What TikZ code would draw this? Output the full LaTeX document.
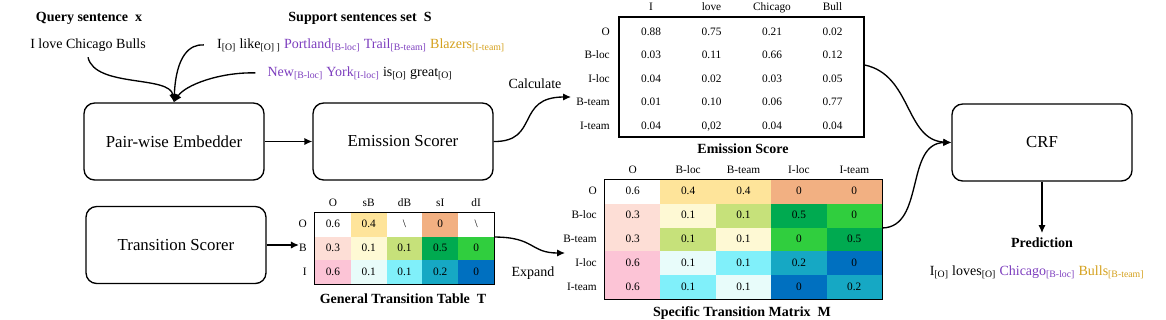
\documentclass[tikz,border=0pt]{standalone}
\usepackage{fontspec}
\setmainfont{Liberation Serif}
\usetikzlibrary{arrows.meta}
\definecolor{pur}{RGB}{125,62,190}
\definecolor{gld}{RGB}{212,160,28}
\definecolor{cw}{RGB}{255,255,255}
\definecolor{cy}{RGB}{254,228,154}
\definecolor{cs}{RGB}{242,176,130}
\definecolor{cpp}{RGB}{253,222,214}
\definecolor{ccr}{RGB}{254,249,212}
\definecolor{cyg}{RGB}{198,225,122}
\definecolor{cdg}{RGB}{0,170,80}
\definecolor{cg}{RGB}{48,206,62}
\definecolor{cpk}{RGB}{252,196,214}
\definecolor{cpc}{RGB}{232,252,250}
\definecolor{ccy}{RGB}{128,240,250}
\definecolor{ctl}{RGB}{22,168,196}
\definecolor{cbl}{RGB}{0,112,192}
\newcommand{\sbs}[1]{\textsubscript{#1}}
\begin{document}
\begin{tikzpicture}[x=0.75pt,y=-0.75pt,
  txt/.style={font=\fontsize{10.5}{12.6}\selectfont, inner sep=0pt},
  ttl/.style={font=\bfseries\fontsize{10.5}{12.6}\selectfont, inner sep=0pt},
  box/.style={draw, line width=1pt, rounded corners=8pt, minimum width=135pt, minimum height=57.75pt, font=\fontsize{12.6}{15}\selectfont},
  arr/.style={line width=1pt, -{Latex[length=6pt,width=5.5pt]}},
  hdr/.style={font=\fontsize{8.5}{10}\selectfont, inner sep=0pt, text height=6pt, text depth=1.5pt},
  tcell/.style={hdr, minimum width=27pt, minimum height=17.9pt},
  mcell/.style={hdr, minimum width=41.7pt, minimum height=18pt},
  frame/.style={line width=1pt}
]
\useasboundingbox (0,0) rectangle (1166,319);

% ---------- boxes ----------
\node[box] (pe) at (174,141.5) {Pair-wise Embedder};
\node[box] (es) at (403,141.5) {Emission Scorer};
\node[box] (ts) at (176,245) {Transition Scorer};
\node[box] (crf) at (1042,142.5) {CRF};

% ---------- top texts ----------
\node[ttl, anchor=base] (qt) at (89,21) {Query sentence~~x};
\node[txt, anchor=base] (q) at (88,48) {I love Chicago Bulls};
\node[ttl, anchor=base] (st) at (360,21) {Support sentences set~~S};
\node[txt, anchor=base] (s1) at (361,48) {I\sbs{[O]} like\sbs{[O] ]} {\color{pur}Portland\sbs{[B-loc]} Trail\sbs{[B-team]}} {\color{gld}Blazers\sbs{[I-team]}}};
\node[txt, anchor=base] (s2) at (360,76) {{\color{pur}New\sbs{[B-loc]} York\sbs{[I-loc]}} is\sbs{[O]} great\sbs{[O]}};

% ---------- emission score table ----------
\node[draw, frame, minimum width=183.75pt, minimum height=90pt, inner sep=0pt] (E) at (741.5,77) {};
\foreach \h [count=\j] in {I,love,Chicago,Bull}
  \node[hdr] (Eh\j) at ({651+60.5*(\j-1)},7) {\h};
\foreach \h [count=\i] in {O,B-loc,I-loc,B-team,I-team}
  \node[hdr, anchor=east] (Er\i) at (610,{32+23.5*(\i-1)}) {\h};
\foreach \row [count=\i] in {{0.88,0.75,0.21,0.02},{0.03,0.11,0.66,0.12},{0.04,0.02,0.03,0.05},{0.01,0.10,0.06,0.77},{0.04,{0,02},0.04,0.04}}
  \foreach \v [count=\j] in \row
    \node[hdr] (E\i\j) at ({651+60.5*(\j-1)},{32+23.5*(\i-1)}) {\v};
\node[ttl, anchor=base] (Et) at (743,153) {Emission Score};

% ---------- general transition table ----------
\foreach \h [count=\j] in {O,sB,dB,sI,dI}
  \node[hdr] (Th\j) at ({315+35.8*(\j-0.5)},203) {\h};
\foreach \h [count=\i] in {O,B,I}
  \node[hdr, anchor=east] (Tr\i) at (307,{213+23.67*(\i-0.5)}) {\h};
\foreach \row [count=\i] in {{cw/0.6,cy/0.4,cw/\textbackslash,cs/0,cw/\textbackslash},{cpp/0.3,ccr/0.1,cyg/0.1,cdg/0.5,cg/0},{cpk/0.6,cpc/0.1,ccy/0.1,ctl/0.2,cbl/0}}
  \foreach \c/\v [count=\j] in \row
    \node[tcell, fill=\c] (T\i\j) at ({315+35.8*(\j-0.5)},{213+23.67*(\i-0.5)}) {\v};
\draw[frame] (T11.north west) rectangle (T35.south east);
\node[ttl, anchor=base] (Tt) at (403,303) {General Transition Table~~T};

% ---------- specific transition matrix ----------
\foreach \h [count=\j] in {O,B-loc,B-team,I-loc,I-team}
  \node[hdr] (Mh\j) at ({605+55.4*(\j-0.5)},170) {\h};
\foreach \h [count=\i] in {O,B-loc,B-team,I-loc,I-team}
  \node[hdr, anchor=east] (Mr\i) at (597,{180+23.8*(\i-0.5)}) {\h};
\foreach \row [count=\i] in {{cw/0.6,cy/0.4,cy/0.4,cs/0,cs/0},{cpp/0.3,ccr/0.1,cyg/0.1,cdg/0.5,cg/0},{cpp/0.3,cyg/0.1,ccr/0.1,cg/0,cdg/0.5},{cpk/0.6,cpc/0.1,ccy/0.1,ctl/0.2,cbl/0},{cpk/0.6,ccy/0.1,cpc/0.1,cbl/0,ctl/0.2}}
  \foreach \c/\v [count=\j] in \row
    \node[mcell, fill=\c] (M\i\j) at ({605+55.4*(\j-0.5)},{180+23.8*(\i-0.5)}) {\v};
\draw[frame] (M11.north west) rectangle (M55.south east);
\node[ttl, anchor=base] (Mt) at (742,316) {Specific Transition Matrix~~M};

% ---------- labels ----------
\node[txt, anchor=base] (calc) at (535,88) {Calculate};
\node[txt, anchor=base] (expd) at (533,276) {Expand};

% ---------- prediction ----------
\node[ttl, anchor=base] (pt) at (1042,247) {Prediction};
\node[txt, anchor=base] (pr) at (1037,275) {I\sbs{[O]} loves\sbs{[O]} {\color{pur}Chicago\sbs{[B-loc]}} {\color{gld}Bulls\sbs{[B-team]}}};

% ---------- coordinates ----------
\coordinate (eend) at (571,97);
\coordinate (mend) at (565,253);

% ---------- connectors ----------
\draw[arr] ([yshift=-4.5pt]q.south) .. controls (95,88) and (170,75) .. (pe.north);
\draw[arr] ([xshift=-9.75pt]s1.west) .. controls (190,44) and (176,55) .. (pe.north);
\draw[arr] ([xshift=-9pt]s2.west) .. controls (220,72) and (185,85) .. (pe.north);
\draw[arr] (pe) -- (es);
\draw[arr] (es.east) .. controls (540,142) and (515,97) .. (eend);
\draw[arr] (ts.east) -- (ts.east -| Tr2.west);
\draw[arr] (T15.south east) .. controls (535,237) and (530,253) .. (mend);
\draw[arr] ([yshift=9pt]E.east) .. controls (912,75) and (905,140) .. (crf.west);
\draw[arr] (M25.south east) .. controls (925,227) and (905,143) .. (crf.west);
\draw[arr, shorten >=3pt] (crf.south) -- (crf.south |- pt.north);
\end{tikzpicture}
\end{document}
